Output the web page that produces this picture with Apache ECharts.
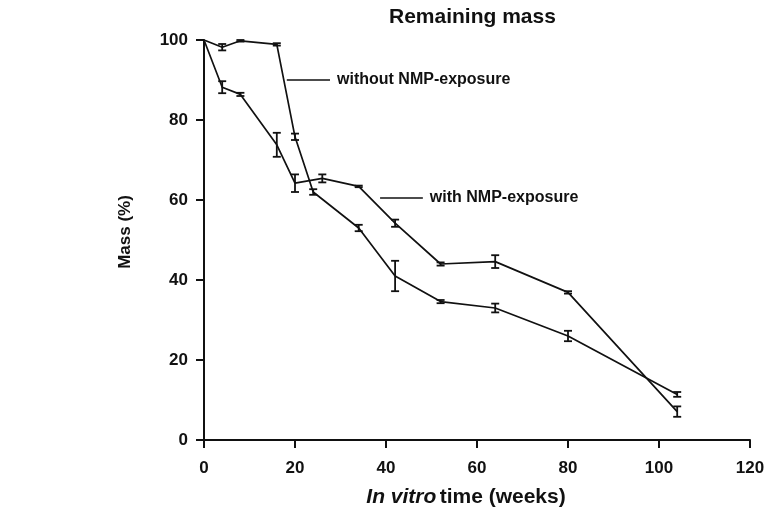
<!DOCTYPE html>
<html>
<head>
<meta charset="utf-8">
<script src="https://cdn.jsdelivr.net/npm/echarts@6/dist/echarts.min.js"></script>
<style>html,body{margin:0;padding:0;background:#fff;}#c{width:771px;height:511px;}</style>
</head>
<body>
<div id="c"></div>
<script>
// Data
const weeksWithout = [0, 4, 8, 16, 20, 24, 34, 42, 52, 64, 80, 104];
const massWithout  = [100, 98.2, 99.8, 98.9, 75.8, 62.0, 53.0, 41.0, 34.6, 33.0, 26.0, 11.4];
const errWithout   = [0, 0.8, 0.2, 0.3, 0.8, 0.7, 0.8, 3.8, 0.4, 1.1, 1.3, 0.6];

const weeksWith = [0, 4, 8, 16, 20, 26, 34, 42, 52, 64, 80, 104];
const massWith  = [100, 88.2, 86.4, 73.8, 64.2, 65.4, 63.4, 54.2, 44.0, 44.6, 36.9, 7.1];
const errWith   = [0, 1.5, 0.4, 3.0, 2.2, 1.0, 0.2, 0.9, 0.4, 1.6, 0.3, 1.3];

const xTicks = [0, 20, 40, 60, 80, 100, 120];
const yTicks = [0, 20, 40, 60, 80, 100];

// Annotation leaders (data units)
const annotText = ['without NMP-exposure', 'with NMP-exposure'];
const annotX1 = [18.2, 38.7];
const annotX2 = [27.7, 48.1];
const annotY  = [90, 60.5];

const FONT = '"Liberation Sans", Arial, Helvetica, sans-serif';

function pairs(xs, ys) { return xs.map((x, i) => [x, ys[i]]); }
function triples(xs, ys, es) { return xs.map((x, i) => [x, ys[i], es[i]]); }

function errRender(params, api) {
  const x = api.value(0), y = api.value(1), e = api.value(2);
  if (!e) return null;
  const t = api.coord([x, y + e]);
  const b = api.coord([x, y - e]);
  const hw = 4;
  const st = { stroke: '#111', lineWidth: 1.8 };
  return {
    type: 'group',
    children: [
      { type: 'line', shape: { x1: t[0], y1: t[1], x2: b[0], y2: b[1] }, style: st },
      { type: 'line', shape: { x1: t[0] - hw, y1: t[1], x2: t[0] + hw, y2: t[1] }, style: st },
      { type: 'line', shape: { x1: b[0] - hw, y1: b[1], x2: b[0] + hw, y2: b[1] }, style: st }
    ]
  };
}

function annotRender(params, api) {
  const i = params.dataIndex;
  const p1 = api.coord([api.value(0), api.value(2)]);
  const p2 = api.coord([api.value(1), api.value(2)]);
  return {
    type: 'group',
    children: [
      { type: 'line', shape: { x1: p1[0], y1: p1[1], x2: p2[0], y2: p2[1] }, style: { stroke: '#111', lineWidth: 1.4 } },
      { type: 'text', style: { x: p2[0] + 7, y: p2[1], text: annotText[i], fill: '#111',
          font: 'bold 16px ' + FONT, textVerticalAlign: 'middle', textAlign: 'left' } }
    ]
  };
}

const chart = echarts.init(document.getElementById('c'), null, { renderer: 'canvas' });
chart.setOption({
  backgroundColor: '#fff',
  animation: false,
  title: {
    text: 'Remaining mass',
    left: 384, top: 2,
    textStyle: { fontFamily: FONT, fontWeight: 'bold', fontSize: 21, color: '#111' }
  },
  grid: { left: 204, right: 21, top: 40, bottom: 71, containLabel: false, outerBoundsMode: 'none' },
  xAxis: {
    type: 'value', min: xTicks[0], max: xTicks[xTicks.length - 1], interval: 20,
    name: '{i|In vitro} {n|time (weeks)}',
    nameLocation: 'middle', nameGap: 47,
    nameTextStyle: {
      padding: [0, 22, 0, 0],
      rich: {
        i: { fontFamily: FONT, fontWeight: 'bold', fontStyle: 'italic', fontSize: 21, color: '#111' },
        n: { fontFamily: FONT, fontWeight: 'bold', fontSize: 21, color: '#111' }
      }
    },
    axisLine: { show: true, onZero: false, lineStyle: { color: '#111', width: 2 } },
    axisTick: { show: true, inside: false, length: 8, lineStyle: { color: '#111', width: 2 } },
    axisLabel: { margin: 20, fontFamily: FONT, fontWeight: 'bold', fontSize: 17, color: '#111' },
    splitLine: { show: false }
  },
  yAxis: {
    type: 'value', min: yTicks[0], max: yTicks[yTicks.length - 1], interval: 20,
    name: 'Mass (%)', nameLocation: 'middle', nameGap: 70, nameRotate: 90,
    nameTextStyle: { fontFamily: FONT, fontWeight: 'bold', fontSize: 17, color: '#111', padding: [0, 0, 0, 16] },
    axisLine: { show: true, onZero: false, lineStyle: { color: '#111', width: 2 } },
    axisTick: { show: true, inside: false, length: 8, lineStyle: { color: '#111', width: 2 } },
    axisLabel: { margin: 16, fontFamily: FONT, fontWeight: 'bold', fontSize: 17, color: '#111' },
    splitLine: { show: false }
  },
  series: [
    { name: 'without NMP-exposure', type: 'line', data: pairs(weeksWithout, massWithout),
      symbol: 'none', lineStyle: { color: '#111', width: 1.7 }, z: 3 },
    { name: 'with NMP-exposure', type: 'line', data: pairs(weeksWith, massWith),
      symbol: 'none', lineStyle: { color: '#111', width: 1.7 }, z: 3 },
    { type: 'custom', renderItem: errRender, data: triples(weeksWithout, massWithout, errWithout), z: 4 },
    { type: 'custom', renderItem: errRender, data: triples(weeksWith, massWith, errWith), z: 4 },
    { type: 'custom', renderItem: annotRender,
      data: annotText.map((t, i) => [annotX1[i], annotX2[i], annotY[i]]), z: 5 }
  ]
});
</script>
</body>
</html>
